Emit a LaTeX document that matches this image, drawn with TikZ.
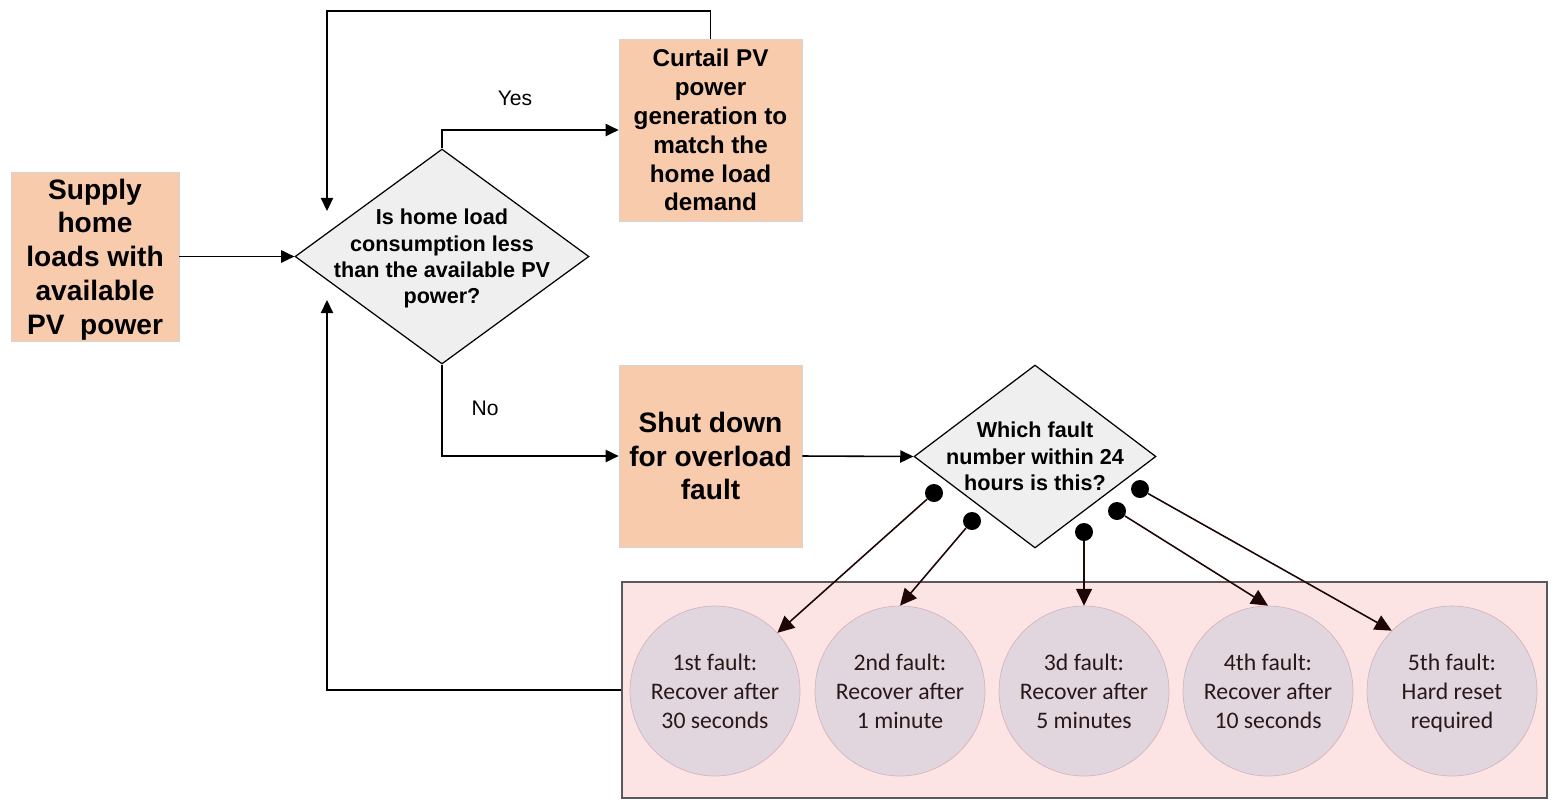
\documentclass[tikz,border=0pt]{standalone}
\usepackage{fontspec}
\setmainfont{Liberation Sans}
\newfontfamily\calibrifont{Carlito}
\usepackage{tikz}
\usetikzlibrary{arrows.meta,shapes.geometric,calc}
\usepackage{xcolor}
\definecolor{procfill}{HTML}{F8CBAD}
\definecolor{procline}{HTML}{D4D4D4}
\definecolor{decfill}{HTML}{EFEFEF}
\definecolor{grpfill}{HTML}{FDE4E4}
\definecolor{grpline}{HTML}{595959}
\definecolor{faultfill}{HTML}{E1D5DE}
\definecolor{faultline}{HTML}{D2B6BE}
\definecolor{faulttext}{HTML}{2A1818}
\definecolor{tipdark}{HTML}{1E0606}
\tikzset{
  proc/.style={draw=procline, fill=procfill, align=center, inner sep=0pt, text depth=0pt,
               font=\fontsize{16}{19.2}\selectfont\bfseries},
  decision/.style={draw, diamond, fill=decfill, inner sep=0pt, line width=0.7pt},
  qtext/.style={align=center, inner sep=0pt, text depth=0pt,
                font=\fontsize{12.3}{15}\selectfont\bfseries},
  fault/.style={draw=faultline, circle, fill=faultfill, minimum size=3.4cm, inner sep=0pt,
                align=center, text depth=0pt, text=faulttext,
                font=\calibrifont\fontsize{13.5}{16.5}\selectfont},
  fdot/.style={circle, fill=black, minimum size=0.36cm, inner sep=0pt},
  arrow/.style={-{Triangle[length=7.5pt, width=7pt]}, line width=0.9pt},
  farrow/.style={-{Triangle[length=9.5pt, width=9pt]}, line width=0.9pt, draw=tipdark},
  lbl/.style={font=\fontsize{12}{14}\selectfont, inner sep=0pt},
}

\begin{document}
\begin{tikzpicture}[x=0.02cm, y=-0.02cm]
  \useasboundingbox (0,0) rectangle (1557,809);

  % Process boxes
  \node[proc, minimum width=3.36cm, minimum height=3.38cm] (supply) at (95,256.5)
    {Supply\\home\\loads with\\available\\PV\ \ power};
  \node[proc, minimum width=3.66cm, minimum height=3.64cm,
        font=\fontsize{13.8}{16.4}\selectfont\bfseries] (curtail) at (710.5,130)
    {Curtail PV\\power\\generation to\\match the\\home load\\demand};
  \node[proc, minimum width=3.66cm, minimum height=3.64cm] (shut) at (710.5,456)
    {Shut down\\for overload\\fault};

  % Decisions
  \node[decision, minimum width=5.88cm, minimum height=4.3cm] (q1) at (442,256.5) {};
  \node[qtext] (q1t) at (q1) {Is home load\\consumption less\\than the available PV\\power?};
  \node[decision, minimum width=4.84cm, minimum height=3.66cm] (q2) at (1035,456.5) {};
  \node[qtext] (q2t) at (q2) {Which fault\\number within 24\\hours is this?};

  % Fault group with circles
  \node[draw=grpline, fill=grpfill, line width=0.8pt, minimum width=18.5cm,
        minimum height=4.32cm] (grp) at (1084.5,690) {};
  \node[fault] (c1) at (715,691) {1st fault:\\Recover after\\30 seconds};
  \node[fault] (c2) at (900,691) {2nd fault:\\Recover after\\1 minute};
  \node[fault] (c3) at (1084,691) {3d fault:\\Recover after\\5 minutes};
  \node[fault] (c4) at (1268,691) {4th fault:\\Recover after\\10 seconds};
  \node[fault] (c5) at (1452,691) {5th fault:\\Hard reset\\required};

  % Branch dots
  \node[fdot] (d1) at (934,493) {};
  \node[fdot] (d2) at (972,521) {};
  \node[fdot] (d3) at (1084,532) {};
  \node[fdot] (d4) at (1117,511) {};
  \node[fdot] (d5) at (1140,489) {};

  % Loop end points
  \coordinate (looptop) at (327,11);
  \coordinate (looptip) at (327,211);
  \coordinate (fbtip) at (327,300);

  % Main flow
  \draw[arrow] (supply.east) -- (q1.west);
  \draw[arrow] (q1.north) |- (curtail.west);
  \node[lbl] (yes) at (515,98) {Yes};
  \draw[arrow] (q1.south) |- (shut.west);
  \node[lbl] (no) at (485,408) {No};
  \draw[arrow] (shut.east) -- (q2.west);
  \draw[arrow] (curtail.north) |- (looptop) -- (looptip);
  \draw[arrow] (grp.west) -| (fbtip);

  % Fault branches
  \draw[farrow] (d1) -- (c1.43);
  \draw[farrow] (d2) -- (c2.north);
  \draw[farrow] (d3) -- (c3.north);
  \draw[farrow] (d4) -- (c4.north);
  \draw[farrow] (d5) -- (c5.135);
\end{tikzpicture}
\end{document}
